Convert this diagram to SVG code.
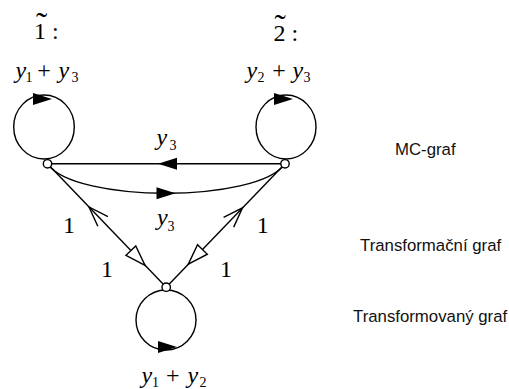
<svg xmlns="http://www.w3.org/2000/svg" xmlns:xlink="http://www.w3.org/1999/xlink" width="509" height="389" viewBox="0 0 509 389">
<style>
.ln{fill:none;stroke:#000;stroke-width:1.4}
.nd{fill:#fff;stroke:#000;stroke-width:1.4}
.m{font-family:"Liberation Serif","Times New Roman",serif;font-size:24px;fill:#000}
.i{font-style:italic}
.s{font-size:14px;font-style:normal}
.t{font-size:34px}
.lab{font-family:"Liberation Sans",Arial,sans-serif;font-size:16.8px;fill:#111}
</style>
<defs>
<path id="fa" d="M0,0 L-19,-6 L-19,6 Z" fill="#000"/>
<path id="ha" d="M0,0 L-20.4,-6.8 L-20.4,6.8 Z" fill="#fff" stroke="#000" stroke-width="1.4" stroke-linejoin="miter"/>
<path id="ch" d="M-20,-7 L0,0 L-20,7" fill="none" stroke="#000" stroke-width="1.4"/>
</defs>

<g id="connectors">
<ellipse class="ln" cx="44" cy="127" rx="30.3" ry="32"/>
<use xlink:href="#fa" href="#fa" transform="translate(52,99)"/>
<ellipse class="ln" cx="286" cy="127" rx="30" ry="32"/>
<use xlink:href="#fa" href="#fa" transform="translate(293,99)"/>
<circle class="ln" cx="166" cy="320" r="30"/>
<use xlink:href="#fa" href="#fa" transform="translate(177,347)"/>

<path class="ln" d="M47.5,163.8 L285,163.8"/>
<use xlink:href="#fa" href="#fa" transform="translate(158,163.8) rotate(180)"/>
<path class="ln" d="M47.5,163.8 C75,203 257,203 285,163.8"/>
<use xlink:href="#fa" href="#fa" transform="translate(175.5,193.2)"/>

<path class="ln" d="M47.5,163.8 L166.2,287.2"/>
<use xlink:href="#ch" href="#ch" transform="translate(89,207) rotate(226.1)"/>
<use xlink:href="#ha" href="#ha" transform="translate(145,265.3) rotate(46.1)"/>

<path class="ln" d="M285,163.8 L166.2,287.2"/>
<use xlink:href="#ch" href="#ch" transform="translate(242.5,207.9) rotate(-46.1)"/>
<use xlink:href="#ha" href="#ha" transform="translate(188.3,264.2) rotate(133.9)"/>

<text class="m"><tspan class="i" x="156.5" y="144.5">y</tspan><tspan class="s" x="169.4" y="149.5">3</tspan></text>
<text class="m"><tspan class="i" x="157" y="224.5">y</tspan><tspan class="s" x="167.4" y="230.5">3</tspan></text>
<text class="m" x="69" y="233" text-anchor="middle">1</text>
<text class="m" x="107" y="277" text-anchor="middle">1</text>
<text class="m" x="262.8" y="233" text-anchor="middle">1</text>
<text class="m" x="226" y="277" text-anchor="middle">1</text>
</g>

<g id="node1">
<circle class="nd" cx="47.5" cy="163.8" r="4.2"/>
<text class="m"><tspan x="34" y="38.5">1</tspan><tspan class="t" x="36" y="36.4">˜</tspan><tspan x="46" y="38.5"> :</tspan></text>
<text class="m"><tspan class="i" x="15.5" y="78">y</tspan><tspan class="s" x="25.5" y="82">1</tspan><tspan x="37.3" y="78">+</tspan><tspan class="i" x="58.5" y="78">y</tspan><tspan class="s" x="71.4" y="82">3</tspan></text>
</g>

<g id="node2">
<circle class="nd" cx="285" cy="163.8" r="4.2"/>
<text class="m"><tspan x="273.5" y="40.5">2</tspan><tspan class="t" x="274.5" y="38.4">˜</tspan><tspan x="285.5" y="40.5"> :</tspan></text>
<text class="m"><tspan class="i" x="246.5" y="78">y</tspan><tspan class="s" x="257.6" y="82">2</tspan><tspan x="272.3" y="78">+</tspan><tspan class="i" x="292.5" y="78">y</tspan><tspan class="s" x="303.4" y="82">3</tspan></text>
</g>

<g id="node3">
<circle class="nd" cx="166.2" cy="287.2" r="4.2"/>
<text class="m"><tspan class="i" x="141.5" y="383">y</tspan><tspan class="s" x="152" y="387">1</tspan><tspan x="166" y="383">+</tspan><tspan class="i" x="187.5" y="383">y</tspan><tspan class="s" x="199.6" y="387">2</tspan></text>
</g>

<g id="labels">
<text class="lab" x="395" y="155">MC-graf</text>
<text class="lab" x="360" y="251">Transformační graf</text>
<text class="lab" x="353" y="322">Transformovaný graf</text>
</g>
</svg>
